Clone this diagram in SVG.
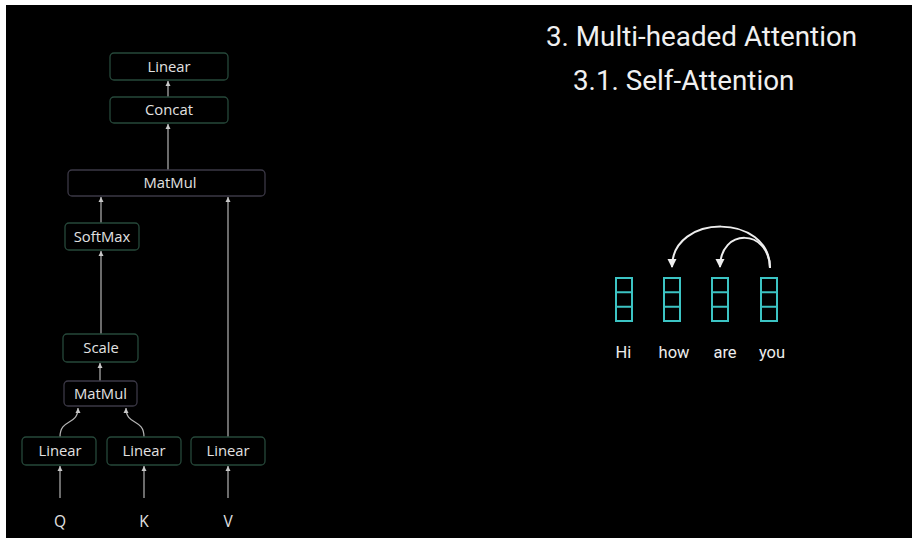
<svg xmlns="http://www.w3.org/2000/svg" width="912" height="538" viewBox="0 0 912 538">
<defs>
<style>
.box{fill:#000;stroke:#26483a;stroke-width:1.3}
.mm{fill:#000;stroke:#3b3846;stroke-width:1.3}
.lbl{font-family:"Open Sans","Noto Sans",sans-serif;font-size:14.8px;fill:#e2e2e2;text-anchor:middle}
.io{font-family:"Open Sans","Noto Sans",sans-serif;font-size:15.5px;fill:#e2e2e2;text-anchor:middle}
.con{fill:none;stroke:#b4b4b4;stroke-width:1.2;marker-end:url(#ah)}
.title{font-family:Roboto,"Liberation Sans",sans-serif;font-size:27.8px;fill:#f0f0f0}
.word{font-family:Roboto,"Liberation Sans",sans-serif;font-size:16.5px;fill:#ececec;text-anchor:middle}
.tok{fill:none;stroke:#3cc4c4;stroke-width:2}
.arc{fill:none;stroke:#eeeeee;stroke-width:2;marker-end:url(#wh)}
</style>
<marker id="ah" markerUnits="userSpaceOnUse" markerWidth="6" markerHeight="6" refX="5" refY="3" orient="auto">
<path d="M0,0.5 L5,3 L0,5.5 Z" fill="#c8c8c8"/>
</marker>
<marker id="wh" markerUnits="userSpaceOnUse" markerWidth="10" markerHeight="10" refX="8" refY="5" orient="auto">
<path d="M0,0.5 L9,5 L0,9.5 Z" fill="#eeeeee"/>
</marker>
</defs>
<rect x="0" y="0" width="912" height="538" fill="#ffffff"/>
<rect x="6" y="5" width="906" height="533" fill="#000000"/>

<g id="connectors">
<path class="con" d="M60,498 L60,466"/>
<path class="con" d="M144,498 L144,466"/>
<path class="con" d="M228,498 L228,466"/>
<path class="con" d="M228,437 L228,197"/>
<path class="con" d="M60,437 C60,418 78,426 78,408"/>
<path class="con" d="M144,437 C144,418 126,426 126,408"/>
<path class="con" d="M100,381 L100,363"/>
<path class="con" d="M101,334 L101,251"/>
<path class="con" d="M101,223 L101,197"/>
<path class="con" d="M168,170 L168,124"/>
<path class="con" d="M168,97 L168,81"/>
<path class="arc" d="M770,268 C770,213 672,213 672,267"/>
<path class="arc" d="M770,268 C769,228 720,228 720,267"/>
</g>

<g id="linear-top"><rect class="box" x="110" y="53" width="118" height="27" rx="4"/><text class="lbl" x="169" y="71.5">Linear</text></g>
<g id="concat"><rect class="box" x="110" y="97" width="118" height="26" rx="4"/><text class="lbl" x="169" y="115">Concat</text></g>
<g id="matmul-top"><rect class="mm" x="68" y="170" width="197" height="26" rx="4"/><text class="lbl" x="170" y="188">MatMul</text></g>
<g id="softmax"><rect class="box" x="65" y="223" width="74" height="27" rx="4"/><text class="lbl" x="102" y="241.5">SoftMax</text></g>
<g id="scale"><rect class="box" x="63" y="334" width="75" height="28" rx="4"/><text class="lbl" x="101" y="353">Scale</text></g>
<g id="matmul-low"><rect class="mm" x="64" y="381" width="73" height="25" rx="4"/><text class="lbl" x="100.5" y="398.5">MatMul</text></g>
<g id="linear-q"><rect class="box" x="22" y="437" width="74" height="28" rx="4"/><text class="lbl" x="60" y="456">Linear</text></g>
<g id="linear-k"><rect class="box" x="107" y="437" width="74" height="28" rx="4"/><text class="lbl" x="144" y="456">Linear</text></g>
<g id="linear-v"><rect class="box" x="191" y="437" width="74" height="28" rx="4"/><text class="lbl" x="228" y="456">Linear</text></g>
<g id="input-q"><text class="io" x="60" y="527">Q</text></g>
<g id="input-k"><text class="io" x="144" y="527">K</text></g>
<g id="input-v"><text class="io" x="228" y="527">V</text></g>

<g id="titles">
<text class="title" x="546" y="46">3. Multi-headed Attention</text>
<text class="title" x="573" y="90">3.1. Self-Attention</text>
</g>

<g id="tok-hi"><rect class="tok" x="616" y="278" width="16" height="43"/><path class="tok" d="M616,292.3 H632 M616,306.7 H632"/><text class="word" x="623.5" y="358">Hi</text></g>
<g id="tok-how"><rect class="tok" x="664" y="278" width="16" height="43"/><path class="tok" d="M664,292.3 H680 M664,306.7 H680"/><text class="word" x="674" y="358">how</text></g>
<g id="tok-are"><rect class="tok" x="712" y="278" width="16" height="43"/><path class="tok" d="M712,292.3 H728 M712,306.7 H728"/><text class="word" x="725" y="358">are</text></g>
<g id="tok-you"><rect class="tok" x="761" y="278" width="16" height="43"/><path class="tok" d="M761,292.3 H777 M761,306.7 H777"/><text class="word" x="772" y="358">you</text></g>
</svg>
